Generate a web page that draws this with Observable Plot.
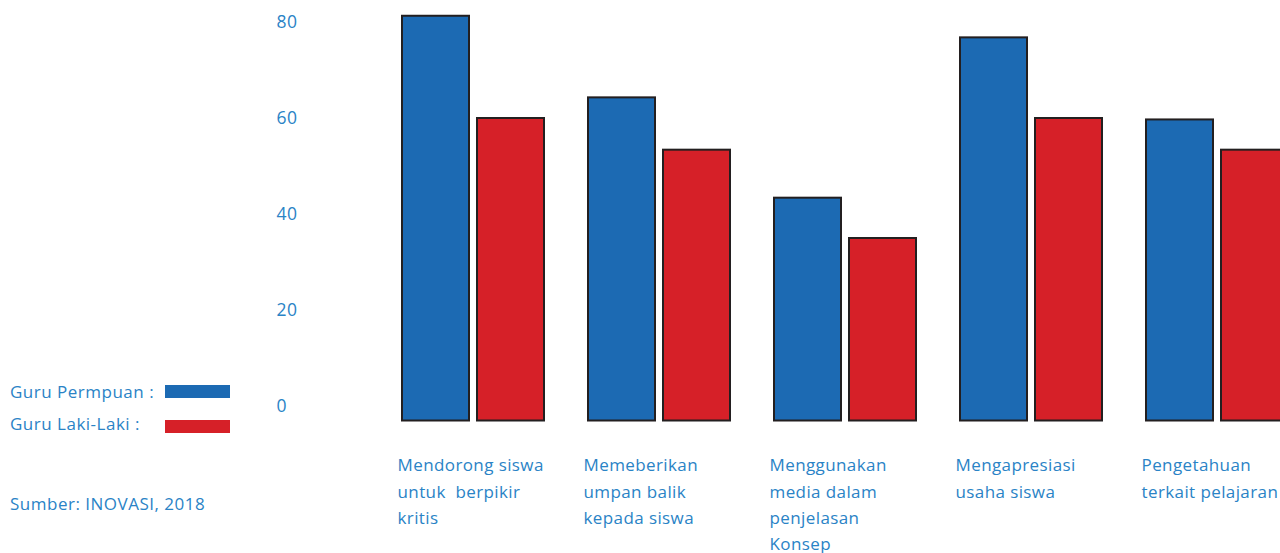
<!DOCTYPE html>
<html>
<head>
<meta charset="utf-8">
<script src="https://cdn.jsdelivr.net/npm/d3@7"></script>
<script src="https://cdn.jsdelivr.net/npm/@observablehq/plot@0.6"></script>
<style>
  html, body { margin: 0; padding: 0; background: #fff; overflow: hidden; }
  body { width: 1280px; height: 553px; position: relative; font-family: "Open Sans", sans-serif; font-weight: 400; color: #2a83c6; }
  #chart { position: absolute; left: 0; top: 0; }
  #chart svg text { white-space: pre; letter-spacing: 0.4px; }
  .legtext { position: absolute; left: 10px; font-size: 17px; line-height: 20px; white-space: nowrap; letter-spacing: 0.5px; }
  .swatch { position: absolute; left: 165px; width: 65px; height: 13px; }
</style>
</head>
<body>
<div id="chart"></div>
<div class="legtext" style="top:382px">Guru Permpuan :</div>
<div class="swatch" id="sw0" style="top:385px"></div>
<div class="legtext" style="top:414px">Guru Laki-Laki :</div>
<div class="swatch" id="sw1" style="top:420px"></div>
<div class="legtext" style="top:494px">Sumber: INOVASI, 2018</div>
<script>
// ---- data ----
const categories = [
  "Mendorong siswa\nuntuk  berpikir\nkritis",
  "Memeberikan\numpan balik\nkepada siswa",
  "Menggunakan\nmedia dalam\npenjelasan\nKonsep",
  "Mengapresiasi\nusaha siswa",
  "Pengetahuan\nterkait pelajaran"
];
const series = ["Guru Permpuan", "Guru Laki-Laki"];
const perempuan = [81.3, 64.3, 43.4, 76.8, 59.7];
const lakiLaki = [60, 53.4, 35, 60, 53.4];
const yTicks = [0, 20, 40, 60, 80];
const colors = ["#1c6ab3", "#d62028"];

document.getElementById("sw0").style.background = colors[0];
document.getElementById("sw1").style.background = colors[1];

const rows = categories.flatMap((c, i) => [
  {cat: c, series: series[0], value: perempuan[i]},
  {cat: c, series: series[1], value: lakiLaki[i]}
]);

const chart = Plot.plot({
  width: 1280,
  height: 553,
  marginTop: 22,
  marginBottom: 147,
  marginLeft: 401,
  marginRight: -10,
  style: {fontFamily: "'Open Sans', sans-serif", fontSize: "17px", color: "#2a83c6", background: "transparent", overflow: "visible"},
  fx: {domain: categories, paddingInner: 0.235, paddingOuter: 0, axis: null},
  x: {domain: series, paddingInner: 0.107, paddingOuter: 0, axis: null},
  y: {domain: [0, 80], axis: null},
  color: {domain: series, range: colors},
  marks: [
    Plot.barY(rows, {fx: "cat", x: "series", y: "value", fill: "series", stroke: "#231f20", strokeWidth: 2, insetBottom: -14.5}),
    Plot.axisY({ticks: yTicks, anchor: "left", tickSize: 0, tickPadding: 0, dx: -126, textAnchor: "start", fontSize: 17.5, label: null}),
    Plot.text(categories, {fx: d => d, text: d => d, frameAnchor: "bottom-left", textAnchor: "start", lineAnchor: "top", dy: 46, dx: -5, lineHeight: 1.55, fontSize: 17, fill: "currentColor"})
  ]
});
document.getElementById("chart").appendChild(chart);
</script>
</body>
</html>
